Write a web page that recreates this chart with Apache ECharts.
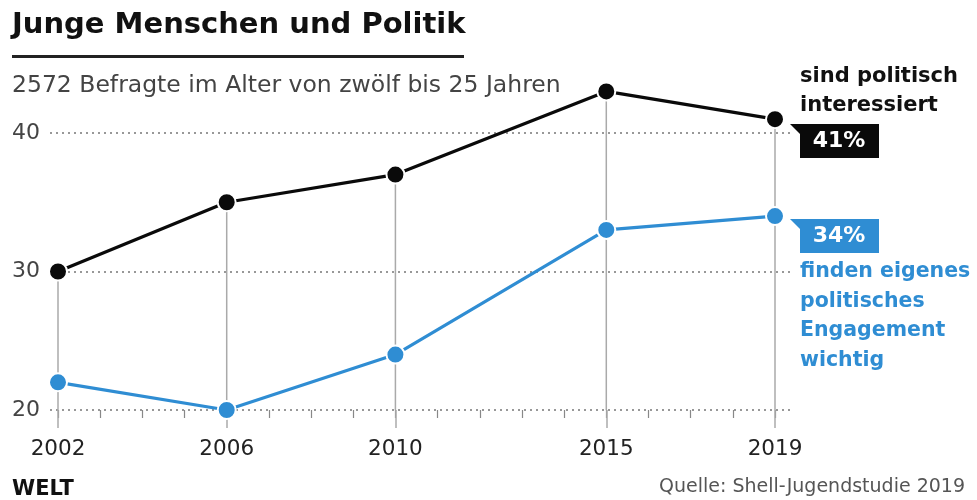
<!DOCTYPE html>
<html><head><meta charset="utf-8">
<script src="https://cdn.jsdelivr.net/npm/echarts@6/dist/echarts.min.js"></script>
<style>html,body{margin:0;padding:0;background:#fff}#c{width:977px;height:500px}</style>
</head><body><div id="c"></div>
<script>
const years = [2002, 2006, 2010, 2015, 2019];
const interested = [30, 35, 37, 43, 41];
const engagement = [22, 20, 24, 33, 34];
const yTicks = [20, 30, 40];
const titleText = 'Junge Menschen und Politik';
const subtitleText = '2572 Befragte im Alter von zwölf bis 25 Jahren';
const sourceText = 'Quelle: Shell-Jugendstudie 2019';
const labelBlack = ['sind politisch', 'interessiert'];
const labelBlue = ['finden eigenes', 'politisches', 'Engagement', 'wichtig'];

const BLUE = '#2f8dd3';
const BLACK = '#0a0a0a';
const FONT = '"DejaVu Sans", sans-serif';

const chart = echarts.init(document.getElementById('c'), null, {renderer: 'canvas'});
const lastB = interested[interested.length - 1];
const lastE = engagement[engagement.length - 1];

chart.setOption({
  animation: false,
  backgroundColor: '#fff',
  textStyle: {fontFamily: FONT},
  grid: [
    {left: 50, right: 187, top: 133, bottom: 90},
    {left: 58, right: 202, top: 133, bottom: 90}
  ],
  xAxis: [
    {gridIndex: 0, type: 'value', min: 0, max: 1, show: false},
    {gridIndex: 1, type: 'value', position: 'bottom', min: years[0], max: years[years.length - 1], interval: 1,
      axisLine: {show: false},
      axisTick: {show: true, length: 8, lineStyle: {color: '#888', width: 1.2}},
      axisLabel: {show: false},
      splitLine: {show: false}},
    {gridIndex: 1, type: 'value', position: 'bottom', offset: 0, min: years[0], max: years[years.length - 1],
      axisLine: {show: false},
      axisTick: {show: true, customValues: years, length: 18, lineStyle: {color: '#aaa', width: 1.5}},
      axisLabel: {customValues: years, margin: 28, fontSize: 21.5, color: '#222', fontFamily: FONT,
        formatter: v => String(v)},
      splitLine: {show: false}}
  ],
  yAxis: [
    {gridIndex: 0, type: 'value', min: yTicks[0], max: yTicks[yTicks.length - 1], interval: 10,
      axisLine: {show: false}, axisTick: {show: false},
      axisLabel: {fontSize: 22, color: '#444', margin: 10, fontFamily: FONT, verticalAlign: 'middle', padding: [0, 0, 4, 0]},
      splitLine: {show: true, lineStyle: {type: [2, 4], color: '#777', width: 1.5}}},
    {gridIndex: 1, type: 'value', min: yTicks[0], max: yTicks[yTicks.length - 1], interval: 10, show: false}
  ],
  series: [
    {type: 'custom', xAxisIndex: 1, yAxisIndex: 1, z: 1, clip: false,
      data: years.map((y, i) => [y, interested[i]]),
      renderItem: (params, api) => {
        const top = api.coord([api.value(0), api.value(1)]);
        const bot = api.coord([api.value(0), yTicks[0]]);
        return {type: 'line', shape: {x1: top[0], y1: top[1], x2: bot[0], y2: bot[1]},
          style: {stroke: '#aaa', lineWidth: 1.5}};
      }},
    {type: 'line', name: 'interessiert', xAxisIndex: 1, yAxisIndex: 1, z: 5, clip: false,
      data: years.map((y, i) => [y, interested[i]]),
      symbol: 'circle', symbolSize: 18,
      lineStyle: {color: BLACK, width: 3.2},
      itemStyle: {color: BLACK, borderColor: '#fff', borderWidth: 2}},
    {type: 'line', name: 'Engagement', xAxisIndex: 1, yAxisIndex: 1, z: 5, clip: false,
      data: years.map((y, i) => [y, engagement[i]]),
      symbol: 'circle', symbolSize: 18,
      lineStyle: {color: BLUE, width: 3.2},
      itemStyle: {color: BLUE, borderColor: '#fff', borderWidth: 2}}
  ],
  graphic: [
    {type: 'text', left: 12, top: 11, style: {text: titleText, font: 'bold 29px ' + FONT, fill: '#111'}},
    {type: 'rect', left: 12, top: 55, shape: {width: 452, height: 3}, style: {fill: '#222'}},
    {type: 'text', left: 12, top: 74, style: {text: subtitleText, font: '23.5px ' + FONT, fill: '#444'}},
    {type: 'text', left: 800, top: 62, style: {text: labelBlack.join('\n'), font: 'bold 21px ' + FONT, fill: '#111', lineHeight: 29}},
    {type: 'polygon', shape: {points: [[790, 124], [802, 124], [802, 136]]}, style: {fill: BLACK}},
    {type: 'rect', shape: {x: 800, y: 124, width: 79, height: 34}, style: {fill: BLACK}},
    {type: 'text', x: 839, y: 141, style: {text: lastB + '%', font: 'bold 22px ' + FONT, fill: '#fff', align: 'center', verticalAlign: 'middle'}},
    {type: 'polygon', shape: {points: [[790, 219], [802, 219], [802, 231]]}, style: {fill: BLUE}},
    {type: 'rect', shape: {x: 800, y: 219, width: 79, height: 34}, style: {fill: BLUE}},
    {type: 'text', x: 839, y: 236, style: {text: lastE + '%', font: 'bold 22px ' + FONT, fill: '#fff', align: 'center', verticalAlign: 'middle'}},
    {type: 'text', left: 800, top: 257, style: {text: labelBlue.join('\n'), font: 'bold 20.5px ' + FONT, fill: BLUE, lineHeight: 29.5}},
    {type: 'text', left: 12, top: 479, style: {text: 'WELT', font: 'bold 21px ' + FONT, fill: '#111'}},
    {type: 'text', right: 12, top: 478, style: {text: sourceText, font: '19px ' + FONT, fill: '#555'}}
  ]
});
</script>
</body></html>
